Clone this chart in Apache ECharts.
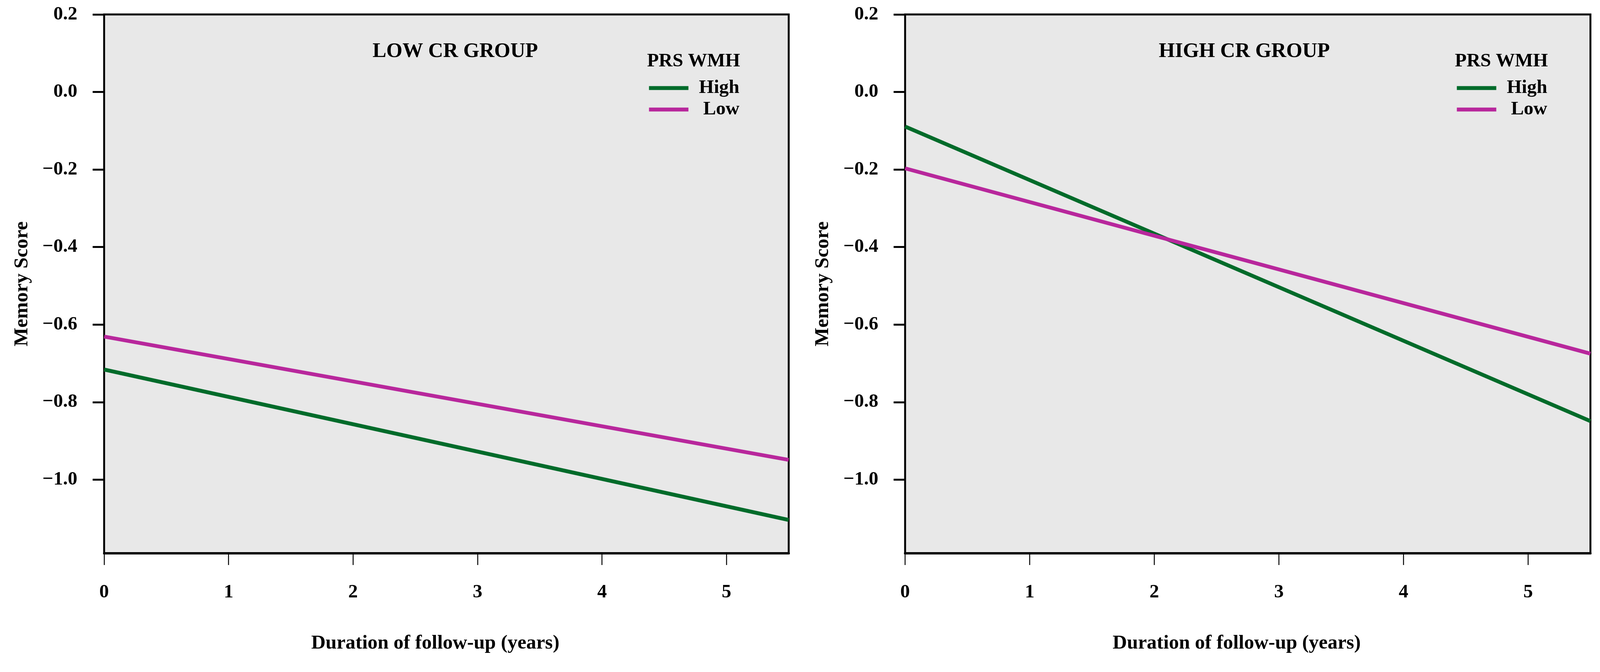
<!DOCTYPE html>
<html>
<head>
<meta charset="utf-8">
<script src="https://cdn.jsdelivr.net/npm/echarts@6/dist/echarts.min.js"></script>
<style>
html,body{margin:0;padding:0;background:#fff;overflow:hidden;width:100%;height:100%;}
#chart{width:100vw;height:100vh;}
</style>
</head>
<body>
<div id="chart"></div>
<script>
// ---- data ----
const xYears = [0, 5.5];
const lowCrHighPrs = [-0.716, -1.104];
const lowCrLowPrs = [-0.631, -0.949];
const highCrHighPrs = [-0.089, -0.849];
const highCrLowPrs = [-0.197, -0.675];
const xTickValues = [0, 1, 2, 3, 4, 5];
const yTickValues = [-1.0, -0.8, -0.6, -0.4, -0.2, 0.0, 0.2];
const panelTitles = ['LOW CR GROUP', 'HIGH CR GROUP'];
const legendTitle = 'PRS WMH';
const seriesNames = ['High', 'Low'];
const xAxisTitle = 'Duration of follow-up (years)';
const yAxisTitle = 'Memory Score';

const GREEN = '#006b2a';
const MAGENTA = '#b8279c';
const FONT = "'Liberation Serif', 'Times New Roman', serif";

function pairs(xs, ys) { return xs.map((x, i) => [x, ys[i]]); }
function fmtY(v) { return v.toFixed(1).replace('-', '\u2212'); }

const el = document.getElementById('chart');
const W = el.clientWidth || window.innerWidth;
const H = el.clientHeight || window.innerHeight;
const sx = W / 4179, sy = H / 1721, sf = Math.min(sx, sy);
const X = v => v * sx, Y = v => v * sy, F = v => v * sf;

const grids = [
  {left: X(272), top: Y(37), width: X(1788), height: Y(1380)},
  {left: X(2364), top: Y(37), width: X(1790), height: Y(1380)}
];

const chart = echarts.init(el, null, {renderer: 'canvas', width: W, height: H});

const xAxes = grids.map((g, i) => ({
  type: 'value', gridIndex: i, min: 0, max: 5.5,
  axisLine: {show: true, onZero: false, lineStyle: {color: '#000', width: F(6)}},
  axisTick: {show: true, inside: false, length: Y(30), lineStyle: {color: '#000', width: F(2.5)}, customValues: xTickValues},
  axisLabel: {show: true, margin: Y(76), fontFamily: FONT, fontWeight: 'bold', fontSize: F(50), color: '#000', customValues: xTickValues},
  splitLine: {show: false},
  name: xAxisTitle, nameLocation: 'middle', nameGap: Y(205),
  nameTextStyle: {fontFamily: FONT, fontWeight: 'bold', fontSize: F(52), color: '#000', padding: [0, X(58), 0, 0]}
}));

const yAxes = grids.map((g, i) => ({
  type: 'value', gridIndex: i, min: -1.19, max: 0.2,
  axisLine: {show: true, onZero: false, lineStyle: {color: '#000', width: F(3)}},
  axisTick: {show: true, inside: false, length: X(30), lineStyle: {color: '#000', width: F(5)}, customValues: yTickValues},
  axisLabel: {show: true, margin: X(70), fontFamily: FONT, fontWeight: 'bold', fontSize: F(50), color: '#000', formatter: fmtY, customValues: yTickValues},
  splitLine: {show: false},
  name: yAxisTitle, nameLocation: 'middle', nameGap: X(188),
  nameTextStyle: {fontFamily: FONT, fontWeight: 'bold', fontSize: F(52), color: '#000'}
}));

const panelData = [
  [lowCrHighPrs, lowCrLowPrs],
  [highCrHighPrs, highCrLowPrs]
];
const colors = [GREEN, MAGENTA];

const series = [];
panelData.forEach((pd, gi) => {
  pd.forEach((ys, si) => {
    series.push({
      type: 'line', name: seriesNames[si], xAxisIndex: gi, yAxisIndex: gi,
      data: pairs(xYears, ys), symbol: 'none', smooth: false,
      lineStyle: {color: colors[si], width: F(10), cap: 'butt'},
      itemStyle: {color: colors[si]},
      silent: true, z: 3
    });
  });
});

const legendLefts = [1690, 3800];
const legends = legendLefts.map(l => ({
  show: true, orient: 'vertical', left: X(l), top: Y(196),
  data: seriesNames, itemWidth: X(103), itemHeight: Y(10), itemGap: Y(6),
  icon: 'rect', selectedMode: false,
  formatter: name => '{r|' + name + '}',
  textStyle: {
    fontFamily: FONT, fontWeight: 'bold', fontSize: F(50), color: '#000', lineHeight: Y(46),
    rich: {r: {fontFamily: FONT, fontWeight: 'bold', fontSize: F(50), color: '#000', lineHeight: Y(46), width: X(128), align: 'right'}}
  }
}));

const titleCenters = [1189, 3250];
const graphic = [];
titleCenters.forEach((cx, i) => {
  graphic.push({
    type: 'text', x: X(cx), y: Y(132), z: 10,
    style: {text: panelTitles[i], fill: '#000', font: 'bold ' + F(54) + 'px ' + FONT, align: 'center', verticalAlign: 'middle'}
  });
});
legendLefts.forEach(l => {
  graphic.push({
    type: 'text', x: X(l), y: Y(157), z: 10,
    style: {text: legendTitle, fill: '#000', font: 'bold ' + F(50) + 'px ' + FONT, align: 'left', verticalAlign: 'middle'}
  });
});

chart.setOption({
  backgroundColor: '#ffffff',
  animation: false,
  grid: grids.map(g => Object.assign({show: true, backgroundColor: '#e8e8e8', borderColor: '#000', borderWidth: F(5)}, g)),
  xAxis: xAxes,
  yAxis: yAxes,
  legend: legends,
  series: series,
  graphic: graphic
});
</script>
</body>
</html>
